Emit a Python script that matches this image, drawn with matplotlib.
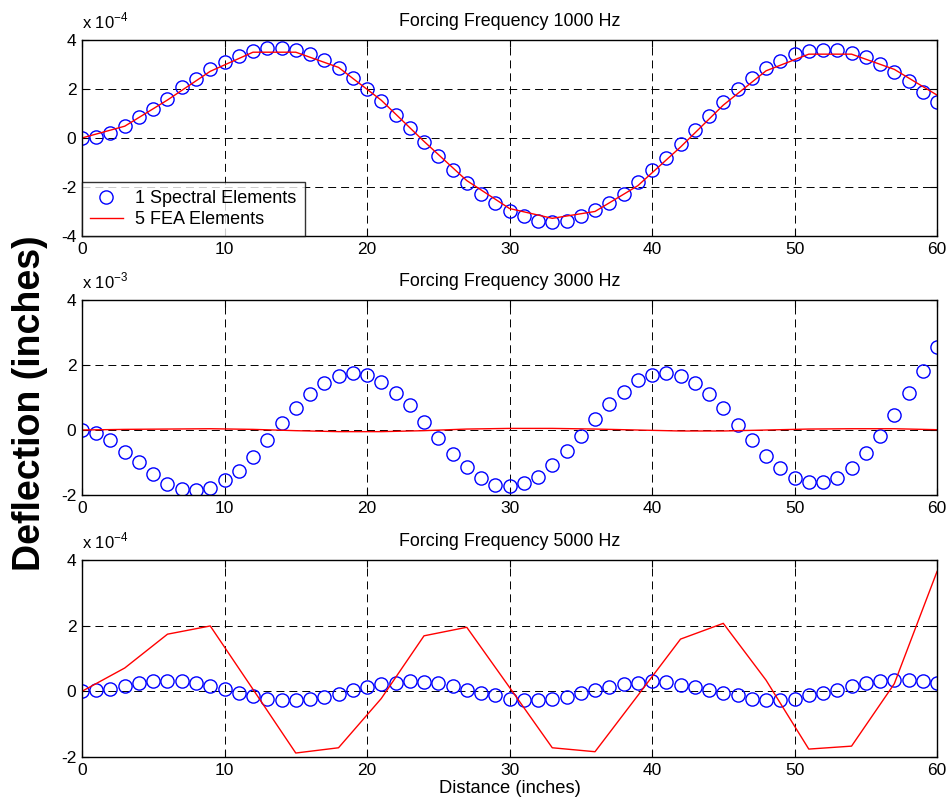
"""Spectral vs FEA deflection at three forcing frequencies (MATLAB-style figure)."""
import matplotlib

matplotlib.use("Agg")
import matplotlib.pyplot as plt
import numpy as np
from matplotlib.ticker import FuncFormatter

plt.rcParams["font.family"] = ["Liberation Sans", "DejaVu Sans"]
plt.rcParams["mathtext.fontset"] = "custom"
plt.rcParams["mathtext.rm"] = "Liberation Sans"

# distance along the beam (inches)
x_spec = np.arange(0, 61)
x_fea = np.arange(0, 61, 3)

freqs = [1000, 3000, 5000]
scales = [-4, -3, -4]

# deflection, in units of 10^scale inches
spec_1000 = [0, 0.04, 0.22, 0.5, 0.87, 1.2, 1.58, 2.06, 2.4, 2.8, 3.08, 3.36, 3.55, 3.67, 3.66,
             3.6, 3.42, 3.2, 2.84, 2.46, 1.99, 1.49, 0.95, 0.4, -0.16, -0.72, -1.31, -1.83, -2.28,
             -2.66, -2.97, -3.2, -3.38, -3.41, -3.37, -3.2, -2.96, -2.66, -2.28, -1.81, -1.32,
             -0.8, -0.25, 0.34, 0.9, 1.47, 2.0, 2.44, 2.84, 3.15, 3.42, 3.56, 3.59, 3.59, 3.48,
             3.32, 3.03, 2.69, 2.33, 1.88, 1.47]
fea_1000 = [0, 0.48, 1.55, 2.72, 3.5, 3.5, 2.88, 1.54, -0.14, -1.74, -2.88, -3.28, -3.0, -1.95,
            -0.37, 1.34, 2.74, 3.42, 3.42, 2.8, 1.75]

spec_3000 = [0, -0.1, -0.32, -0.67, -0.99, -1.34, -1.66, -1.82, -1.85, -1.77, -1.55, -1.25, -0.83,
             -0.32, 0.21, 0.67, 1.1, 1.44, 1.66, 1.74, 1.69, 1.49, 1.15, 0.76, 0.24, -0.24, -0.75,
             -1.13, -1.48, -1.69, -1.72, -1.64, -1.44, -1.08, -0.65, -0.18, 0.33, 0.8, 1.18, 1.54,
             1.69, 1.74, 1.66, 1.44, 1.1, 0.68, 0.16, -0.31, -0.79, -1.18, -1.48, -1.61, -1.61,
             -1.48, -1.18, -0.7, -0.18, 0.46, 1.15, 1.83, 2.55]
fea_3000 = [0, 0.02, 0.03, 0.04, 0.02, -0.02, -0.05, -0.05, -0.02, 0.03, 0.05, 0.05, 0.03, 0.0,
            -0.03, -0.03, 0.0, 0.03, 0.04, 0.04, 0.01]

spec_5000 = [0, 0.03, 0.08, 0.17, 0.24, 0.3, 0.3, 0.3, 0.24, 0.16, 0.08, -0.05, -0.13, -0.22,
             -0.28, -0.28, -0.23, -0.18, -0.08, 0.04, 0.13, 0.21, 0.26, 0.3, 0.29, 0.24, 0.16,
             0.04, -0.05, -0.12, -0.22, -0.28, -0.28, -0.22, -0.18, -0.05, 0.03, 0.13, 0.21, 0.24,
             0.3, 0.29, 0.2, 0.13, 0.04, -0.05, -0.12, -0.22, -0.28, -0.28, -0.22, -0.12, -0.05,
             0.04, 0.17, 0.24, 0.3, 0.35, 0.34, 0.3, 0.26]
fea_5000 = [0, 0.71, 1.74, 1.99, 0.06, -1.88, -1.72, -0.22, 1.69, 1.95, 0.12, -1.72, -1.84, -0.13,
            1.59, 2.07, 0.34, -1.76, -1.67, 0.23, 3.65]

spec_all = [spec_1000, spec_3000, spec_5000]
fea_all = [fea_1000, fea_3000, fea_5000]
ylims = [(-4, 4), (-2, 4), (-2, 4)]

fig = plt.figure(figsize=(9.49, 8.07), dpi=100)
# axes rectangles [left, bottom, width, height] in figure fractions
rects = [[0.0864, 0.7076, 0.901, 0.2429],
         [0.0864, 0.3866, 0.901, 0.2416],
         [0.0864, 0.0620, 0.901, 0.2441]]

for i, freq in enumerate(freqs):
    ax = fig.add_axes(rects[i])
    s = 10.0 ** scales[i]
    ax.plot(x_spec, np.array(spec_all[i]) * s, "o", mfc="none", mec=(0, 0, 1),
            ms=9.5, mew=1.0, label="1 Spectral Elements")
    ax.plot(x_fea, np.array(fea_all[i]) * s, "-", color=(1, 0, 0), lw=1.0,
            label="5 FEA Elements")
    ax.set_xlim(0, 60)
    ax.set_ylim(ylims[i][0] * s, ylims[i][1] * s)
    ax.set_xticks(np.arange(0, 61, 10))
    ax.set_yticks(np.arange(ylims[i][0], ylims[i][1] + 1, 2) * s)
    ax.yaxis.set_major_formatter(FuncFormatter(lambda v, pos, s=s: f"{round(v / s):d}"))
    ax.tick_params(direction="in", top=True, right=True, labelsize=12.5, length=5, pad=4)
    ax.grid(True, color="black", linestyle=(0, (8.2, 5.1)), linewidth=0.7)
    for sp in ax.spines.values():
        sp.set_linewidth(1.0)
    ax.set_title(f"Forcing Frequency {freq} Hz", fontsize=12.9, pad=10)
    ax.text(0.0, 1.045, rf"x 10$^{{{scales[i]}}}$", transform=ax.transAxes,
            fontsize=12, ha="left", va="bottom")
    if i == 0:
        leg = ax.legend(loc="lower left", fontsize=13, frameon=True, fancybox=False,
                        edgecolor="black", borderaxespad=0.0, handlelength=1.8,
                        handletextpad=0.7, borderpad=0.45, labelspacing=0.2)
        leg.get_frame().set_linewidth(1.0)
    if i == 2:
        ax.set_xlabel("Distance (inches)", fontsize=13.2, labelpad=2)

fig.text(0.032, 0.5, "Deflection (inches)", rotation=90, fontsize=27, fontweight="bold",
         ha="center", va="center")

fig.savefig("out.png", dpi=100)
